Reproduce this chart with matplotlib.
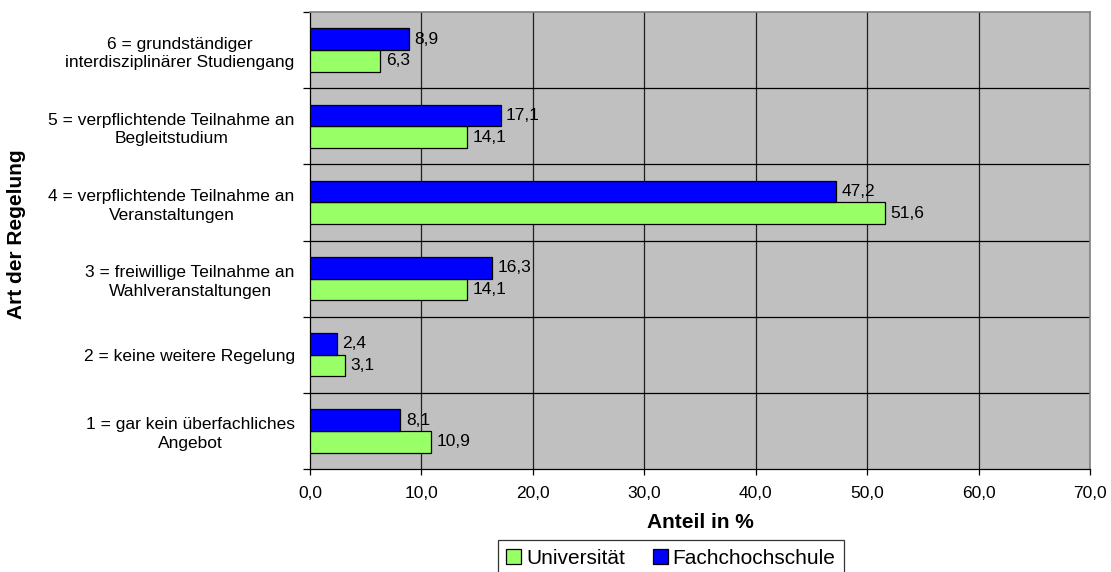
import matplotlib
matplotlib.use("Agg")
import matplotlib.pyplot as plt
import numpy as np
from matplotlib.patches import Patch

plt.rcParams['font.family'] = ['Liberation Sans', 'DejaVu Sans']

categories = [
    "1 = gar kein überfachliches\nAngebot",
    "2 = keine weitere Regelung",
    "3 = freiwillige Teilnahme an\nWahlveranstaltungen",
    "4 = verpflichtende Teilnahme an\nVeranstaltungen",
    "5 = verpflichtende Teilnahme an\nBegleitstudium",
    "6 = grundständiger\ninterdisziplinärer Studiengang",
]
universitaet = [10.9, 3.1, 14.1, 51.6, 14.1, 6.3]
fachhochschule = [8.1, 2.4, 16.3, 47.2, 17.1, 8.9]
xticks = [0, 10, 20, 30, 40, 50, 60, 70]

fig = plt.figure(figsize=(11.11, 5.72), dpi=100)
ax = fig.add_axes([310/1111, 1-469/572, 780/1111, 457/572])
ax.set_facecolor('#C0C0C0')

n = len(categories)
y = np.arange(n)
h = 0.285
ax.barh(y - h/2, universitaet, height=h, color='#99FF66', edgecolor='black', linewidth=0.9, zorder=3)
ax.barh(y + h/2, fachhochschule, height=h, color='#0000FF', edgecolor='black', linewidth=0.9, zorder=3)

def fmt(v):
    return f"{v:.1f}".replace('.', ',')

for yi, v in zip(y, universitaet):
    ax.annotate(fmt(v), (v, yi - h/2), xytext=(4, 0), textcoords='offset points',
                va='center', ha='left', fontsize=12.5, zorder=4)
for yi, v in zip(y, fachhochschule):
    ax.annotate(fmt(v), (v, yi + h/2), xytext=(4, 0), textcoords='offset points',
                va='center', ha='left', fontsize=12.5, zorder=4)

ax.set_xlim(0, 70)
ax.set_ylim(-0.5, n - 0.5)
ax.set_xticks(xticks)
ax.set_xticklabels([fmt(t) for t in xticks], fontsize=12.5)
ax.set_yticks(y)
ax.set_yticklabels(categories, fontsize=12.5, ha='right', multialignment='center', linespacing=1.3)
ax.tick_params(axis='y', which='major', length=0, pad=11)
ax.set_yticks(np.arange(-0.5, n, 1.0), minor=True)
ax.tick_params(axis='y', which='minor', length=5, width=0.9)
ax.tick_params(axis='x', which='major', length=4, width=0.9, pad=8)

for xv in xticks[1:-1]:
    ax.axvline(xv, color='#202020', linewidth=0.9, zorder=1)
for yb in np.arange(0.5, n - 0.5, 1.0):
    ax.axhline(yb, color='black', linewidth=0.9, zorder=1)

ax.spines['top'].set_color('#808080')
ax.spines['right'].set_color('#808080')
ax.spines['top'].set_linewidth(1.2)
ax.spines['right'].set_linewidth(1.2)
ax.spines['left'].set_linewidth(0.9)
ax.spines['bottom'].set_linewidth(0.9)

ax.set_xlabel("Anteil in %", fontsize=15, fontweight='bold', labelpad=9)
fig.text(17/1111, 1-234/572, "Art der Regelung", rotation=90, fontsize=15, fontweight='bold', ha='center', va='center')

handles = [Patch(facecolor='#99FF66', edgecolor='black', linewidth=0.9),
           Patch(facecolor='#0000FF', edgecolor='black', linewidth=0.9)]
leg = fig.legend(handles, ["Universität", "Fachchochschule"], loc='center', bbox_to_anchor=(671/1111, 1-558/572),
                 ncol=2, fontsize=15, frameon=True, fancybox=False, edgecolor='black',
                 handlelength=0.72, handleheight=0.72, handletextpad=0.25, columnspacing=1.3,
                 borderpad=0.4, borderaxespad=0)
leg.get_frame().set_linewidth(0.9)

fig.savefig("out.png", dpi=100)
